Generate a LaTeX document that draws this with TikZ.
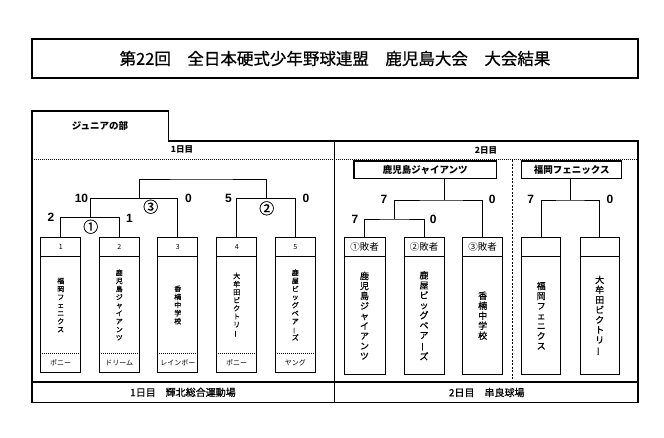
\documentclass[tikz,border=0pt]{standalone}
\usepackage{fontspec}
\setmainfont{Noto Sans CJK JP}
\newfontfamily\scorefont{Liberation Sans}
\newfontfamily\heavyfont{Noto Sans CJK JP}[FakeBold=0.7]
\newcommand\chouon{\rotatebox[origin=c]{90}{ー}}
\tikzset{
  frame/.style={draw, line width=1.4pt},
  teambox/.style={draw, line width=0.9pt, minimum width=40pt, inner sep=0pt},
  bracket/.style={line width=0.9pt},
  score/.style={font=\scorefont\bfseries\fontsize{12}{12}\selectfont, inner sep=0pt},
  circnum/.style={font=\heavyfont\fontsize{15}{15}\selectfont, inner sep=0pt},
  tname/.style={align=center, inner sep=0pt, font=\heavyfont\fontsize{7}{8.1}\selectfont},
  rname/.style={align=center, inner sep=0pt, font=\heavyfont\fontsize{9}{10}\selectfont},
  tlabel/.style={inner sep=0pt, font=\fontsize{7}{7}\selectfont},
  rlabel/.style={inner sep=0pt, font=\fontsize{9.5}{9.5}\selectfont},
  dotline/.style={dash pattern=on 1pt off 1pt, line width=0.6pt},
}
\begin{document}
\begin{tikzpicture}[x=1pt, y=-1pt]
    \useasboundingbox (0,0) rectangle (664,437);
    % Title and outer frame with tab
    \node[frame, minimum width=606pt, minimum height=39pt, font=\heavyfont\fontsize{16.5}{16.5}\selectfont] (title) at (335,58.5) {第22回　全日本硬式少年野球連盟　鹿児島大会　大会結果};
    \draw[frame] (168.3,141) -- (168.3,111) -- (32,111) -- (32,402.5) -- (638,402.5) -- (638,141) -- cycle;
    \draw[line width=1.2pt] (334.5,141) -- (334.5,402.5);
    \draw[line width=1.2pt] (32,382) -- (638,382);
    \draw[dotline] (32,159.5) -- (638,159.5);
    \draw[dash pattern=on 2pt off 1.5pt, line width=0.6pt] (512.3,160) -- (512.3,382);
    \node[font=\bfseries\fontsize{9.5}{9.5}\selectfont] (div) at (100,125.7) {ジュニアの部};
    \node[font=\bfseries\fontsize{8.5}{8.5}\selectfont] (day1) at (182,149.5) {1日目};
    \node[font=\bfseries\fontsize{8.5}{8.5}\selectfont] (day2) at (486,150) {2日目};
    \node[font=\heavyfont\fontsize{10}{10}\selectfont] (venue1) at (183,392.3) {1日目　輝北総合運動場};
    \node[font=\heavyfont\fontsize{10}{10}\selectfont] (venue2) at (486.7,392.5) {2日目　串良球場};

    % Day 1 teams
    \node[teambox, minimum height=135.4pt] (t1) at (60.7,305) {};
    \node[teambox, minimum height=135.4pt] (t2) at (119.3,305) {};
    \node[teambox, minimum height=135.4pt] (t3) at (177.8,305) {};
    \node[teambox, minimum height=135.4pt] (t4) at (236.7,305) {};
    \node[teambox, minimum height=135.4pt] (t5) at (295.3,305) {};
    \draw[bracket] (t1.north west) ++(0,19.4) -- ++(40,0);
    \draw[bracket] (t2.north west) ++(0,19.4) -- ++(40,0);
    \draw[bracket] (t3.north west) ++(0,19.4) -- ++(40,0);
    \draw[bracket] (t4.north west) ++(0,19.4) -- ++(40,0);
    \draw[bracket] (t5.north west) ++(0,19.4) -- ++(40,0);
    \draw[dotline] (t1.south west) ++(0,-19.7) -- ++(40,0);
    \draw[dotline] (t2.south west) ++(0,-19.7) -- ++(40,0);
    \draw[dotline] (t3.south west) ++(0,-19.7) -- ++(40,0);
    \draw[dotline] (t4.south west) ++(0,-19.7) -- ++(40,0);
    \draw[dotline] (t5.south west) ++(0,-19.7) -- ++(40,0);
    \node[tlabel] (n1) at (60.7,247) {1};
    \node[tlabel] (n2) at (119.3,247) {2};
    \node[tlabel] (n3) at (177.8,247) {3};
    \node[tlabel] (n4) at (236.7,247) {4};
    \node[tlabel] (n5) at (295.3,247) {5};
    \node[tname] (nm1) at (60.7,305) {福\\岡\\フ\\ェ\\ニ\\ク\\ス};
    \node[tname] (nm2) at (119.3,305) {鹿\\児\\島\\ジ\\ャ\\イ\\ア\\ン\\ツ};
    \node[tname] (nm3) at (177.8,305) {香\\楠\\中\\学\\校};
    \node[tname] (nm4) at (236.7,305) {大\\牟\\田\\ビ\\ク\\ト\\リ\\\chouon};
    \node[tname] (nm5) at (295.3,305) {鹿\\屋\\ビ\\ッ\\グ\\ベ\\ア\\\chouon\\ズ};
    \node[tlabel] (a1) at (60.7,363) {ポニー};
    \node[tlabel] (a2) at (119.3,363) {ドリーム};
    \node[tlabel] (a3) at (177.8,363) {レインボー};
    \node[tlabel] (a4) at (236.7,363) {ポニー};
    \node[tlabel] (a5) at (295.3,363) {ヤング};

    % Day 1 bracket
    \coordinate (m1) at (90,217.7);
    \coordinate (m3) at (139.3,198.3);
    \coordinate (m2) at (266.5,198.3);
    \coordinate (fin) at (200,179);
    \draw[bracket] (t1.north) |- (m1) -| (t2.north);
    \draw[bracket] (m1) |- (m3) -| (t3.north);
    \draw[bracket] (t4.north) |- (m2) -| (t5.north);
    \draw[bracket] (m3) |- (fin) -| (m2);
    \node[score] (s1) at (51,217) {2};
    \node[score] (s2) at (129.5,218) {1};
    \node[score] (s3) at (81.5,198) {10};
    \node[score] (s4) at (188.5,198) {0};
    \node[score] (s5) at (228.5,198) {5};
    \node[score] (s6) at (306,198) {0};
    \node[circnum] (c1) at (90.7,226.7) {①};
    \node[circnum] (c3) at (150.7,206.7) {③};
    \node[circnum] (c2) at (266.7,208.3) {②};

    % Day 2 teams
    \node[frame, minimum width=142.7pt, minimum height=17.3pt, inner sep=0pt, font=\bfseries\fontsize{9.5}{9.5}\selectfont] (w1) at (425.3,169.7) {鹿児島ジャイアンツ};
    \node[frame, minimum width=100pt, minimum height=17.3pt, inner sep=0pt, font=\bfseries\fontsize{9.5}{9.5}\selectfont] (w2) at (571.7,169.7) {福岡フェニックス};
    \node[teambox, minimum width=41pt, minimum height=136.7pt] (r1) at (364.5,305.7) {};
    \node[teambox, minimum width=40pt, minimum height=136.7pt] (r2) at (424,305.7) {};
    \node[teambox, minimum width=40pt, minimum height=136.7pt] (r3) at (482.7,305.7) {};
    \node[teambox, minimum width=39pt, minimum height=136.7pt] (r4) at (541.2,305.7) {};
    \node[teambox, minimum width=39pt, minimum height=136.7pt] (r5) at (599.7,305.7) {};
    \draw[bracket] (r1.north west) ++(0,20) -- ++(41,0);
    \draw[bracket] (r2.north west) ++(0,20) -- ++(40,0);
    \draw[bracket] (r3.north west) ++(0,20) -- ++(40,0);
    \draw[bracket] (r4.north west) ++(0,20) -- ++(39,0);
    \draw[bracket] (r5.north west) ++(0,20) -- ++(39,0);
    \node[rlabel] (l1) at (364.5,247.3) {①敗者};
    \node[rlabel] (l2) at (424,247.3) {②敗者};
    \node[rlabel] (l3) at (482.7,247.3) {③敗者};
    \node[rname] (rn1) at (364.5,315.7) {鹿\\児\\島\\ジ\\ャ\\イ\\ア\\ン\\ツ};
    \node[rname] (rn2) at (424,315.7) {鹿\\屋\\ビ\\ッ\\グ\\ベ\\ア\\\chouon\\ズ};
    \node[rname] (rn3) at (482.7,315.7) {香\\楠\\中\\学\\校};
    \node[rname] (rn4) at (541.2,315.7) {福\\岡\\フ\\ェ\\ニ\\ク\\ス};
    \node[rname] (rn5) at (599.7,315.7) {大\\牟\\田\\ビ\\ク\\ト\\リ\\\chouon};

    % Day 2 bracket
    \coordinate (k1) at (394.5,219);
    \coordinate (k2) at (444,200);
    \coordinate (k3) at (570,200);
    \draw[bracket] (r1.north) |- (k1) -| (r2.north);
    \draw[bracket] (k1) |- (k2) -| (r3.north);
    \draw[bracket] (k2) -- (k2 |- w1.south);
    \draw[bracket] (r4.north) |- (k3) -| (r5.north);
    \draw[bracket] (k3) -- (k3 |- w2.south);
    \node[score] (s7) at (384,199.5) {7};
    \node[score] (s8) at (492.3,199.5) {0};
    \node[score] (s9) at (355,219) {7};
    \node[score] (s10) at (433.3,219) {0};
    \node[score] (s11) at (530.7,199.5) {7};
    \node[score] (s12) at (610,199.5) {0};
\end{tikzpicture}
\end{document}
